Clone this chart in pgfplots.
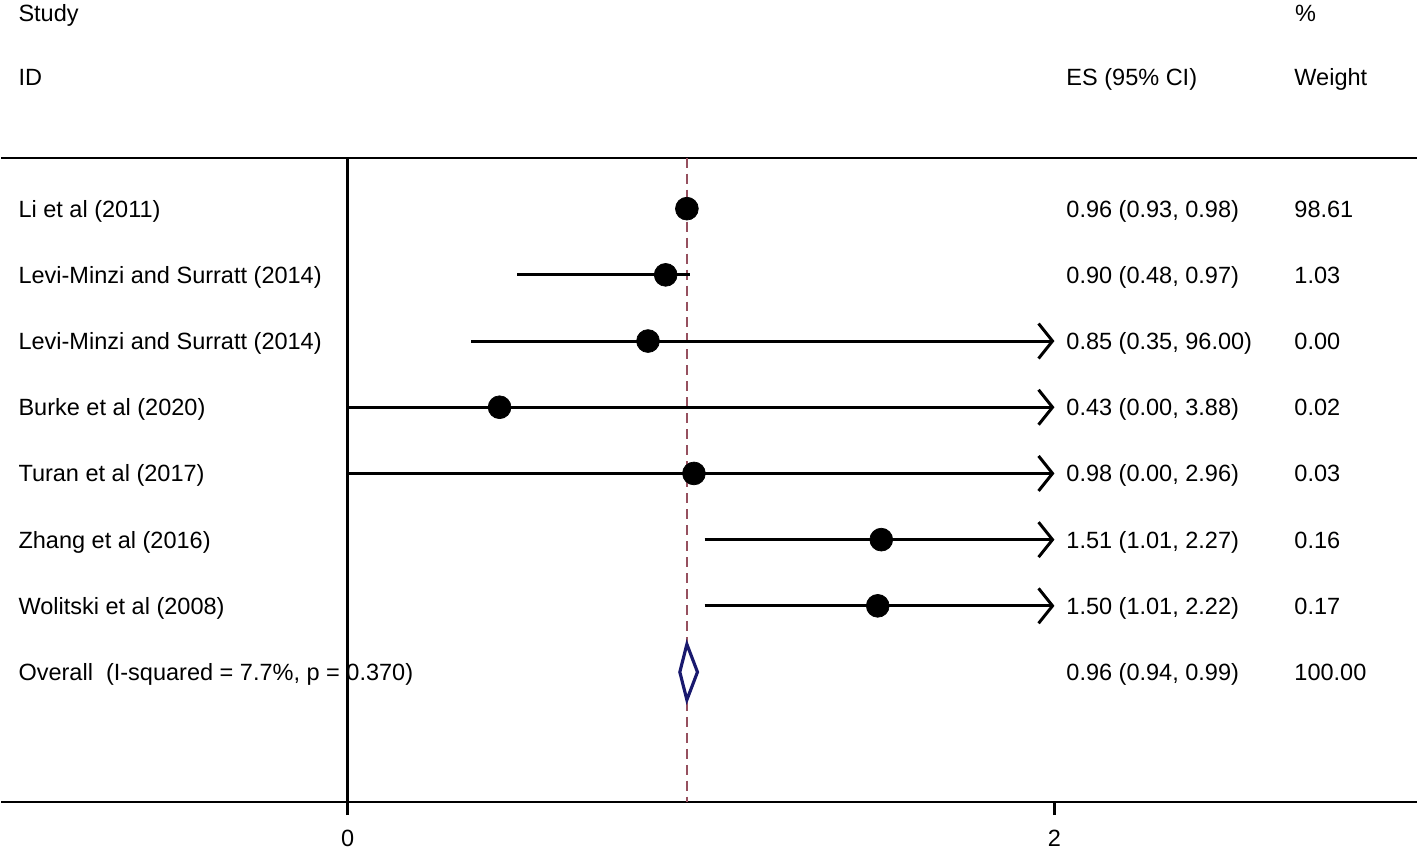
\documentclass[border=0pt]{standalone}
\usepackage{fontspec}
\setmainfont{Liberation Sans}
\usepackage{pgfplots}
\pgfplotsset{compat=1.18}
\usetikzlibrary{arrows.meta}
\definecolor{refline}{RGB}{150,80,95}
\definecolor{diam}{RGB}{25,25,110}
\newcommand{\lblfont}{\fontsize{13.4}{16}\selectfont}

\begin{document}
\begin{tikzpicture}[
    lbl/.style={anchor=base west, inner sep=0pt, font=\lblfont},
    tlbl/.style={anchor=base, inner sep=0pt, font=\lblfont},
]
\begin{axis}[
    scale only axis,
    width=28.36cm,
    height=12.9cm,
    xmin=-0.9802, xmax=3.0254,
    ymin=0.231, ymax=9.959,
    y dir=reverse,
    axis x line*=bottom,
    axis y line=none,
    axis line style={line width=1.3pt},
    xtick={0,2},
    xticklabels={},
    tick align=outside,
    major tick length=0.27cm,
    xtick style={black, line width=1.3pt},
    clip=false,
]
% frame lines
\addplot[black, line width=1.3pt] coordinates {(-0.9802,0.231) (3.0254,0.231)};
\addplot[black, line width=1.3pt] coordinates {(0,0.231) (0,9.959)};
% overall effect reference
\addplot[refline, line width=0.8pt, dash pattern=on 0.2cm off 0.12cm] coordinates {(0.96,0.231) (0.96,9.959)};

% confidence intervals
\addplot[black, line width=1.7pt] coordinates {(0.93,1) (0.98,1)};
\addplot[black, line width=1.7pt] coordinates {(0.48,2) (0.97,2)};
\addplot[black, line width=1.7pt, -{Straight Barb[length=0.28cm, width=0.7cm]}] coordinates {(0.35,3) (2,3)};
\addplot[black, line width=1.7pt, -{Straight Barb[length=0.28cm, width=0.7cm]}] coordinates {(0.00,4) (2,4)};
\addplot[black, line width=1.7pt, -{Straight Barb[length=0.28cm, width=0.7cm]}] coordinates {(0.00,5) (2,5)};
\addplot[black, line width=1.7pt, -{Straight Barb[length=0.28cm, width=0.7cm]}] coordinates {(1.01,6) (2,6)};
\addplot[black, line width=1.7pt, -{Straight Barb[length=0.28cm, width=0.7cm]}] coordinates {(1.01,7) (2,7)};

% point estimates
\addplot[only marks, mark=*, mark size=6.5pt, black] coordinates {
    (0.96,1) (0.90,2) (0.85,3) (0.43,4) (0.98,5) (1.51,6) (1.50,7)
};

% pooled estimate
\addplot[diam, line width=1.8pt, fill=white] coordinates {
    (0.94,8) (0.96,7.58) (0.99,8) (0.96,8.42)
} -- cycle;

% tick labels
\node[tlbl] at (axis cs:0,10.638) {0};
\node[tlbl] at (axis cs:2,10.638) {2};

% headers
\node[lbl] at (axis cs:-0.932,-1.829) {Study};
\node[lbl] at (axis cs:-0.932,-0.864) {ID};
\node[lbl] at (axis cs:2.033,-0.864) {ES (95\% CI)};
\node[lbl] at (axis cs:2.680,-1.829) {\%};
\node[lbl] at (axis cs:2.678,-0.864) {Weight};

% rows
\node[lbl] at (axis cs:-0.932,1.127) {Li et al (2011)};
\node[lbl] at (axis cs:-0.932,2.127) {Levi-Minzi and Surratt (2014)};
\node[lbl] at (axis cs:-0.932,3.127) {Levi-Minzi and Surratt (2014)};
\node[lbl] at (axis cs:-0.932,4.127) {Burke et al (2020)};
\node[lbl] at (axis cs:-0.932,5.127) {Turan et al (2017)};
\node[lbl] at (axis cs:-0.932,6.127) {Zhang et al (2016)};
\node[lbl] at (axis cs:-0.932,7.127) {Wolitski et al (2008)};
\node[lbl] at (axis cs:-0.932,8.127) {Overall\ \ (I-squared = 7.7\%, p = 0.370)};

\node[lbl] at (axis cs:2.033,1.127) {0.96 (0.93, 0.98)};
\node[lbl] at (axis cs:2.033,2.127) {0.90 (0.48, 0.97)};
\node[lbl] at (axis cs:2.033,3.127) {0.85 (0.35, 96.00)};
\node[lbl] at (axis cs:2.033,4.127) {0.43 (0.00, 3.88)};
\node[lbl] at (axis cs:2.033,5.127) {0.98 (0.00, 2.96)};
\node[lbl] at (axis cs:2.033,6.127) {1.51 (1.01, 2.27)};
\node[lbl] at (axis cs:2.033,7.127) {1.50 (1.01, 2.22)};
\node[lbl] at (axis cs:2.033,8.127) {0.96 (0.94, 0.99)};

\node[lbl] at (axis cs:2.678,1.127) {98.61};
\node[lbl] at (axis cs:2.678,2.127) {1.03};
\node[lbl] at (axis cs:2.678,3.127) {0.00};
\node[lbl] at (axis cs:2.678,4.127) {0.02};
\node[lbl] at (axis cs:2.678,5.127) {0.03};
\node[lbl] at (axis cs:2.678,6.127) {0.16};
\node[lbl] at (axis cs:2.678,7.127) {0.17};
\node[lbl] at (axis cs:2.678,8.127) {100.00};

% page extent
\path (axis cs:-0.9802,-2.152) rectangle (axis cs:3.0254,10.683);
\end{axis}
\end{tikzpicture}
\end{document}
